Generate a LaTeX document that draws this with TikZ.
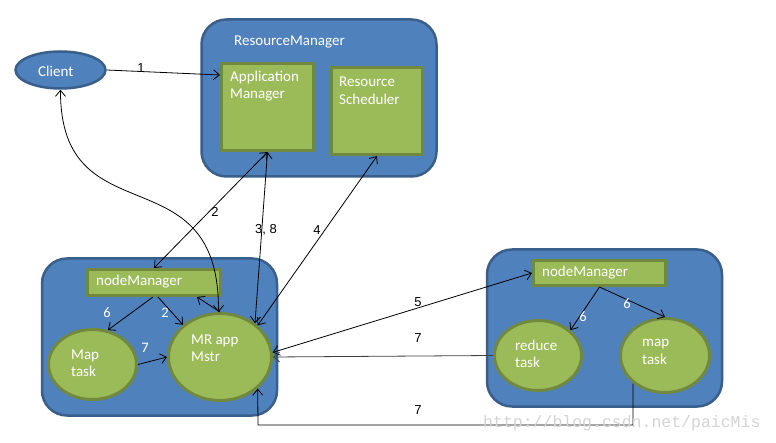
\documentclass[tikz,border=0pt]{standalone}
\usepackage{fontspec}
\setmainfont{Carlito}
\newfontfamily\numfont{Liberation Sans}
\newfontfamily\wmfont{Liberation Mono}
\usetikzlibrary{shapes.geometric,arrows.meta,calc}
\definecolor{bfill}{HTML}{4F81BD}
\definecolor{bline}{HTML}{3A5F8B}
\definecolor{gfill}{HTML}{9BBB59}
\definecolor{gline}{HTML}{71893F}
\definecolor{wmcol}{HTML}{D4D4D4}
\begin{document}
\begin{tikzpicture}[x=1pt,y=-1pt,
  bigbox/.style={draw=bline, fill=bfill, line width=2.5pt, rounded corners=25pt, inner sep=0pt, minimum width=235pt, minimum height=157pt},
  gbox/.style={draw=gline, fill=gfill, line width=3pt, inner sep=0pt},
  gell/.style={ellipse, draw=gline, fill=gfill, line width=3pt, inner sep=0pt},
  bell/.style={ellipse, draw=bline, fill=bfill, line width=2.5pt, inner sep=0pt},
  txt/.style={text=white, font=\fontsize{15}{17.5}\selectfont, inner sep=0pt, align=left, anchor=west},
  wnum/.style={text=white, font=\fontsize{14.5}{16}\selectfont, inner sep=0pt},
  bnum/.style={text=black, font=\numfont\fontsize{13}{15}\selectfont, inner sep=0pt},
  conn/.style={draw=black, line width=0.8pt},
  >={Straight Barb[length=6pt,width=10pt]}
]
\useasboundingbox (0,0) rectangle (776,443);
\fill[white] (0,0) rectangle (776,443);

% containers
\node[bigbox] (rm) at (319,98) {};
\node[bigbox] (lb) at (159.5,337) {};
\node[bigbox] (rb) at (604.5,328) {};

% resource manager parts
\node[gbox, minimum width=92pt, minimum height=87pt] (am) at (267.5,107) {};
\node[gbox, minimum width=91pt, minimum height=87pt] (rs) at (377,111) {};
\node[txt] (rmt) at (234,42) {ResourceManager};
\node[txt] (amt) at (230,86) {Application\\Manager};
\node[txt] (rst) at (339,90.5) {Resource\\Scheduler};

% client
\node[bell, minimum width=90pt, minimum height=37pt] (cl) at (60.5,70) {};
\node[txt] (clt) at (38,71) {Client};

% left node
\node[gbox, minimum width=133pt, minimum height=26pt] (nm1) at (154,282.5) {};
\node[txt] (nm1t) at (96,282) {nodeManager};
\node[gell, minimum width=88pt, minimum height=70pt] (mt) at (92.5,364.5) {};
\node[txt] (mtt) at (71,363) {Map\\task};
\node[gell, minimum width=103pt, minimum height=87pt] (mr) at (220,357) {};
\node[txt] (mrt) at (191,348) {MR app\\Mstr};

% right node
\node[gbox, minimum width=132pt, minimum height=25pt] (nm2) at (599.5,273) {};
\node[txt] (nm2t) at (542,273) {nodeManager};
\node[gell, minimum width=87pt, minimum height=70pt] (rt) at (538,355.5) {};
\node[txt] (rtt) at (515,354) {reduce\\task};
\node[gell, minimum width=89pt, minimum height=74pt] (mp) at (665,355.5) {};
\node[txt] (mpt) at (642,352) {map\\task};

% connectors
\draw[conn,->] (cl.east) -- ([yshift=-13pt]am.north west);
\draw[conn,<->] (nm1.north) -- (am.south);
\draw[conn,<->] (mr.44) -- (am.south);
\draw[conn,<->] (mr.40) -- (rs.south);
\draw[conn,<->] (cl.south) .. controls (60,240) and (220,150) .. (mr.92);
\draw[conn,->] (mr.north) -- ([xshift=-25pt]nm1.south east);
\draw[conn,->] ([xshift=-1pt]nm1.south) -- (mt.66);
\draw[conn,->] ([xshift=4pt]nm1.south) -- (mr.139);
\draw[conn,->] (mt.east) -- (mr.west);
\draw[conn,<->] (mr.5) -- (nm2.west);
\draw[conn,draw=black!75,->] (rt.west) -- (mr.east);
\coordinate (b1) at (258,425);
\draw[conn,->] ($(mp.center)+(-32,28)$) |- (b1) -- (mr.-40);
\draw[conn,->] (nm2.south) -- (rt.38);
\draw[conn,->] (nm2.south) -- (mp.north);

% labels
\node[bnum] (l1) at (141,68) {1};
\node[bnum] (l2) at (215,212) {2};
\node[bnum] (l38) at (266,230) {3, 8};
\node[bnum] (l4) at (317,230) {4};
\node[bnum] (l5) at (418,302) {5};
\node[bnum] (l7a) at (418,338) {7};
\node[bnum] (l7b) at (418,410) {7};
\node[wnum] (w6a) at (107,313) {6};
\node[wnum] (w2) at (165,313) {2};
\node[wnum] (w7) at (145,348) {7};
\node[wnum] (w6b) at (583,317) {6};
\node[wnum] (w6c) at (627,304) {6};

% watermark
\node[text=wmcol, font=\wmfont\fontsize{16.5}{18}\selectfont, inner sep=0pt, anchor=west] (wm) at (483,423) {http://blog.csdn.net/paicMis};
\end{tikzpicture}
\end{document}
